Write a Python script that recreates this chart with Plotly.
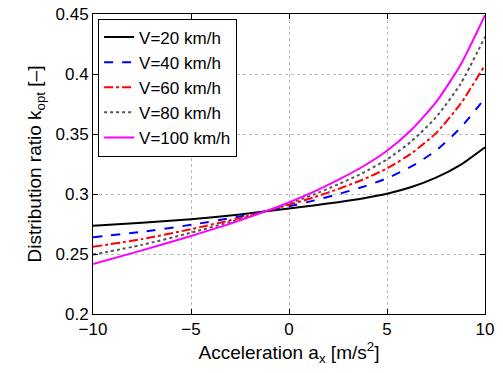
import plotly.graph_objects as go

accel = [-10, -7.5, -5, -2.5, 0, 1.25, 2.5, 3.75, 5, 6.25, 7.5, 8.75, 10]
k_v20 = [0.2736, 0.2760, 0.2790, 0.2830, 0.2880, 0.2905, 0.2932, 0.2963, 0.3002, 0.3058, 0.3136, 0.3243, 0.3390]
k_v40 = [0.2640, 0.2685, 0.2743, 0.2813, 0.2898, 0.2945, 0.2999, 0.3058, 0.3131, 0.3230, 0.3362, 0.3551, 0.3800]
k_v60 = [0.2560, 0.2624, 0.2707, 0.2800, 0.2910, 0.2971, 0.3041, 0.3119, 0.3213, 0.3339, 0.3507, 0.3751, 0.4075]
k_v80 = [0.2495, 0.2576, 0.2678, 0.2790, 0.2920, 0.2995, 0.3080, 0.3174, 0.3288, 0.3440, 0.3639, 0.3917, 0.4310]
k_v100 = [0.2417, 0.2530, 0.2650, 0.2780, 0.2930, 0.3017, 0.3117, 0.3227, 0.3360, 0.3535, 0.3765, 0.4075, 0.4490]

names = ["V=20 km/h", "V=40 km/h", "V=60 km/h", "V=80 km/h", "V=100 km/h"]
series = [k_v20, k_v40, k_v60, k_v80, k_v100]
styles = [("black", "solid"), ("#0000ff", "dash"), ("#ff0000", "dashdot"),
          ("#555555", "dot"), ("#ff00ff", "solid")]

fig = go.Figure()
for name, ys, (c, d) in zip(names, series, styles):
    fig.add_trace(go.Scatter(x=accel, y=ys, mode="lines", name=name,
                             line=dict(color=c, dash=d, width=2, shape="spline", smoothing=0.6)))

axis_common = dict(showline=True, linecolor="black", linewidth=1, mirror="ticks",
                   ticks="inside", ticklen=5, tickcolor="black",
                   showgrid=True, gridcolor="#b8b8b8", griddash="dot", gridwidth=1,
                   zeroline=False, tickfont=dict(size=17, color="black"),
                   ticklabeloverflow="allow", automargin=False)

fig.update_layout(
    width=503, height=373,
    margin=dict(l=93, r=18, t=14, b=59),
    paper_bgcolor="white", plot_bgcolor="white",
    font=dict(family="Liberation Sans, Arial, sans-serif", size=17, color="black"),
    showlegend=True,
    legend=dict(x=0.013, y=0.985, xanchor="left", yanchor="top",
                bgcolor="white", bordercolor="black", borderwidth=1,
                font=dict(size=17), tracegroupgap=0),
)
fig.update_xaxes(range=[-10, 10], tickvals=[-10, -5, 0, 5, 10],
                 title=dict(text="Acceleration a<sub>x</sub> [m/s<sup>2</sup>]", standoff=6, font=dict(size=19)),
                 **axis_common)
fig.update_yaxes(range=[0.2, 0.45], tickvals=[0.2, 0.25, 0.3, 0.35, 0.4, 0.45],
                 ticktext=["0.2", "0.25", "0.3", "0.35", "0.4", "0.45"],
                 title=dict(text="Distribution ratio k<sub>opt</sub> [–]", standoff=8, font=dict(size=19)),
                 **axis_common)

fig.write_html("out.html", config={"displayModeBar": False},
               post_script="document.body.style.margin='0';document.body.style.overflow='hidden';")
